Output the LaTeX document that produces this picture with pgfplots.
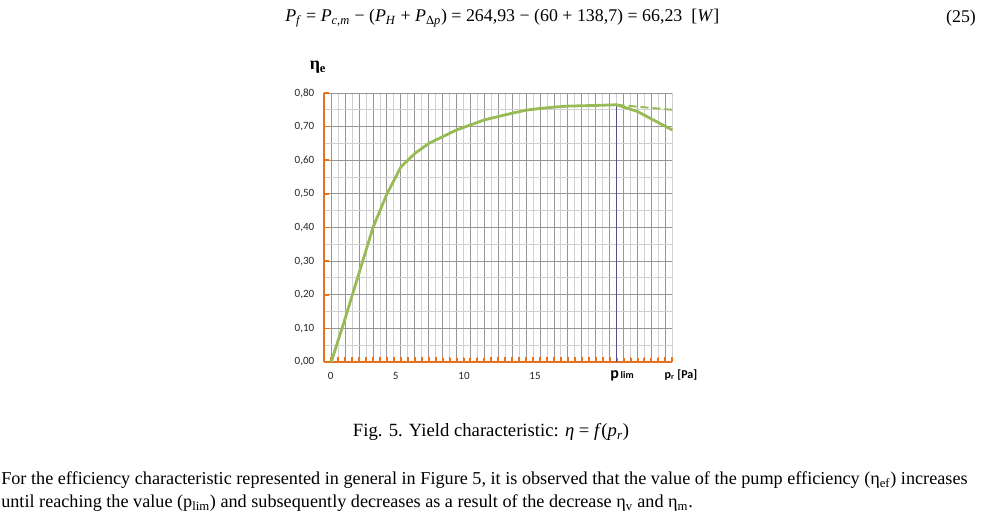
\documentclass[border=0pt]{standalone}
\usepackage{fontspec}
\setmainfont{Liberation Serif}
\newfontfamily\calib{Carlito}
\usepackage{pgfplots}
\pgfplotsset{compat=1.18}
\definecolor{exgreen}{RGB}{152,187,85}
\definecolor{exorange}{RGB}{233,113,30}
\definecolor{plimblue}{RGB}{80,80,135}
\definecolor{gridd}{RGB}{150,150,150}
\definecolor{gridl}{RGB}{208,208,208}
\begin{document}
\begin{tikzpicture}
\begin{axis}[
  set layers=standard,
  at={(243.225pt,116.25pt)}, anchor=south west, scale only axis,
  width=261pt, height=201.75pt,
  xmin=-0.5, xmax=24.5, ymin=0, ymax=0.8,
  axis lines=left,
  axis line style={-, exorange, line width=1.3pt},
  xtick={0,1,...,24}, minor xtick={-0.5,0.5,...,24.5},
  xticklabels={},
  ytick={0,0.1,...,0.8},
  extra y ticks={0.05,0.15,0.25,0.35,0.45,0.55,0.65,0.75},
  extra y tick labels={},
  extra y tick style={major grid style={gridl, line width=0.7pt}, major tick length=0pt},
  grid=both,
  major grid style={gridd, line width=0.7pt},
  minor grid style={gridl, line width=0.7pt},
  tick align=inside,
  major tick length=3.5pt, minor tick length=3.5pt,
  tick style={exorange, line width=1.3pt},
  /pgf/number format/assume math mode=true,
  yticklabel style={font=\calib\fontsize{8.3}{9}\selectfont, text=black!85, xshift=-4pt,
    /pgf/number format/.cd, fixed, fixed zerofill, precision=2, use comma},
  clip=false,
]
% small orange tick marks along the bottom axis
\addplot[exorange, line width=1.5pt, ycomb, mark=none, forget plot] coordinates {
 (0,0.013) (0.5,0.013) (1,0.013) (1.5,0.013) (2,0.013) (2.5,0.013) (3,0.013) (3.5,0.013)
 (4,0.013) (4.5,0.013) (5,0.013) (5.5,0.013) (6,0.013) (6.5,0.013) (7,0.013) (7.5,0.013)
 (8,0.013) (8.5,0.013) (9,0.013) (9.5,0.013) (10,0.013) (10.5,0.013) (11,0.013) (11.5,0.013)
 (12,0.013) (12.5,0.013) (13,0.013) (13.5,0.013) (14,0.013) (14.5,0.013) (15,0.013) (15.5,0.013)
 (16,0.013) (16.5,0.013) (17,0.013) (17.5,0.013) (18,0.013) (18.5,0.013) (19,0.013) (19.5,0.013)
 (20,0.013) (20.5,0.013) (21,0.013) (21.5,0.013) (22,0.013) (22.5,0.013) (23,0.013) (23.5,0.013)
 (24,0.013) (24.5,0.013)};
\addplot[plimblue, line width=0.9pt] coordinates {(20.5,0) (20.5,0.765)};
\addplot[exgreen, line width=1.4pt, dash pattern=on 6pt off 3pt] coordinates {(20.5,0.765) (24.5,0.75)};
\addplot[exgreen, line width=2.1pt, line join=round] coordinates {
 (0,0) (1,0.13) (2,0.265) (3,0.40) (4,0.50) (5,0.58) (6,0.62) (7,0.65) (8,0.67)
 (9,0.69) (10,0.705) (11,0.72) (12,0.73) (13,0.74) (14,0.749) (15,0.754)
 (16,0.758) (17,0.761) (18,0.762) (19,0.763) (20.5,0.765) (22,0.745) (24.5,0.69)};
\end{axis}
\begin{scope}[x=0.75pt,y=0.75pt]
\useasboundingbox (0,0) rectangle (983,517);
% equation
\node[anchor=west,inner sep=0pt,font=\fontsize{13.4}{15}\selectfont] at (285,499)
 {\textit{P}\textsubscript{\textit{f}} = \textit{P}\textsubscript{\textit{c,m}} − (\textit{P}\textsubscript{\textit{H}} + \textit{P}\textsubscript{Δ\textit{p}}) = 264,93 − (60 + 138,7) = 66,23 \ [\textit{W}]};
\node[inner sep=0pt,font=\fontsize{13.4}{15}\selectfont] at (961,499) {(25)};
% y label
\node[inner sep=0pt,font=\bfseries\fontsize{13.5}{14}\selectfont] at (318,450) {η\textsubscript{e}};
% x tick labels
\begin{scope}[every node/.style={inner sep=0pt, font=\calib\fontsize{8.3}{9}\selectfont, text=black!85}]
\node at (330.7,141) {0};
\node at (395.7,141) {5};
\node at (464,141) {10};
\node at (535,141) {15};
\end{scope}
\node[inner sep=0pt,font=\calib\bfseries] at (622,141) {{\fontsize{12}{12}\selectfont p}{\fontsize{7.5}{8}\selectfont\,lim}};
\node[inner sep=0pt,font=\calib\bfseries\fontsize{9}{9}\selectfont] at (681,142) {p\textsubscript{r} [Pa]};
% caption
\node[inner sep=0pt,font=\fontsize{14}{16}\selectfont] at (491,85) {Fig. 5. Yield characteristic: \textit{η} = \textit{f}(\textit{p}\textsubscript{\textit{r}})};
% paragraph
\node[anchor=west,inner sep=0pt,font=\fontsize{13.65}{16}\selectfont] at (1,37) {For the efficiency characteristic represented in general in Figure 5, it is observed that the value of the pump efficiency (η\textsubscript{ef}) increases};
\node[anchor=west,inner sep=0pt,font=\fontsize{13.65}{16}\selectfont] at (1,14) {until reaching the value (p\textsubscript{lim}) and subsequently decreases as a result of the decrease η\textsubscript{v} and η\textsubscript{m}.};
\end{scope}
\end{tikzpicture}
\end{document}
